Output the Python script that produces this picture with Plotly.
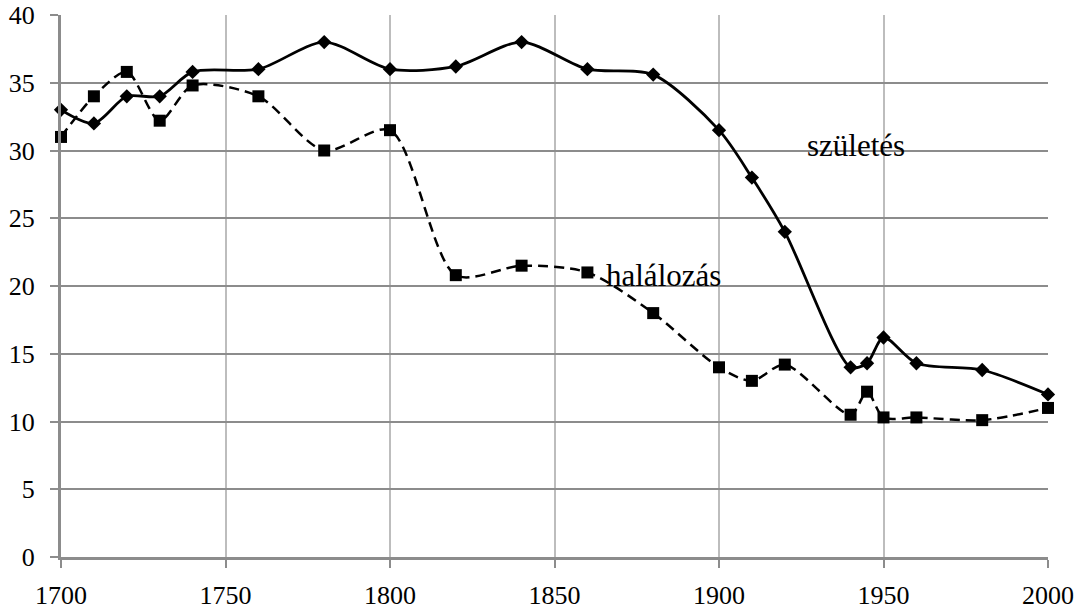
import plotly.graph_objects as go

years = [1700, 1710, 1720, 1730, 1740, 1760, 1780, 1800, 1820, 1840, 1860, 1880,
         1900, 1910, 1920, 1940, 1945, 1950, 1960, 1980, 2000]
szuletes = [33, 32, 34, 34, 35.8, 36, 38, 36, 36.2, 38, 36, 35.6,
            31.5, 28, 24, 14, 14.3, 16.2, 14.3, 13.8, 12]
halalozas = [31, 34, 35.8, 32.2, 34.8, 34, 30, 31.5, 20.8, 21.5, 21, 18,
             14, 13, 14.2, 10.5, 12.2, 10.3, 10.3, 10.1, 11]
x_ticks = [1700, 1750, 1800, 1850, 1900, 1950, 2000]
y_ticks = [0, 5, 10, 15, 20, 25, 30, 35, 40]

SERIF = "Liberation Serif, Times New Roman, serif"

fig = go.Figure()
fig.add_trace(go.Scatter(
    x=years, y=halalozas, mode="lines+markers", name="halálozás",
    line=dict(color="black", width=2.5, dash="10px,6px", shape="spline", smoothing=0.8),
    marker=dict(symbol="square", size=12, color="black"),
    cliponaxis=False,
))
fig.add_trace(go.Scatter(
    x=years, y=szuletes, mode="lines+markers", name="születés",
    line=dict(color="black", width=2.8, shape="spline", smoothing=0.8),
    marker=dict(symbol="diamond", size=11, color="black"),
    cliponaxis=False,
))

fig.add_annotation(x=1941.6, y=30.4, text="születés", showarrow=False,
                   font=dict(family=SERIF, size=31, color="black"))
fig.add_annotation(x=1883, y=20.8, text="halálozás", showarrow=False,
                   font=dict(family=SERIF, size=31, color="black"))

fig.update_layout(
    width=1076, height=610,
    margin=dict(l=61, r=28, t=15, b=53),
    paper_bgcolor="white", plot_bgcolor="white",
    showlegend=False,
    font=dict(family=SERIF, size=26, color="black"),
)
fig.update_xaxes(
    range=[1700, 2000], tickvals=x_ticks, ticktext=[str(v) for v in x_ticks],
    showgrid=True, gridcolor="#bdbdbd", gridwidth=2,
    showline=True, linecolor="#8c8c8c", linewidth=3,
    ticks="outside", ticklen=8, tickcolor="#8c8c8c", tickwidth=2,
    zeroline=False, tickfont=dict(family=SERIF, size=26), ticklabelstandoff=5,
    automargin=False, ticklabeloverflow="allow",
)
fig.update_yaxes(
    range=[0, 40], tickvals=y_ticks,
    showgrid=True, gridcolor="#8c8c8c", gridwidth=2,
    showline=True, linecolor="#8c8c8c", linewidth=3,
    ticks="outside", ticklen=8, tickcolor="#8c8c8c", tickwidth=2,
    zeroline=False, tickfont=dict(family=SERIF, size=26), ticklabelstandoff=10,
    automargin=False, ticklabeloverflow="allow",
)

fig.write_html(
    "out.html",
    config={"displayModeBar": False},
    post_script="document.body.style.margin='0';document.body.style.overflow='hidden';",
)
